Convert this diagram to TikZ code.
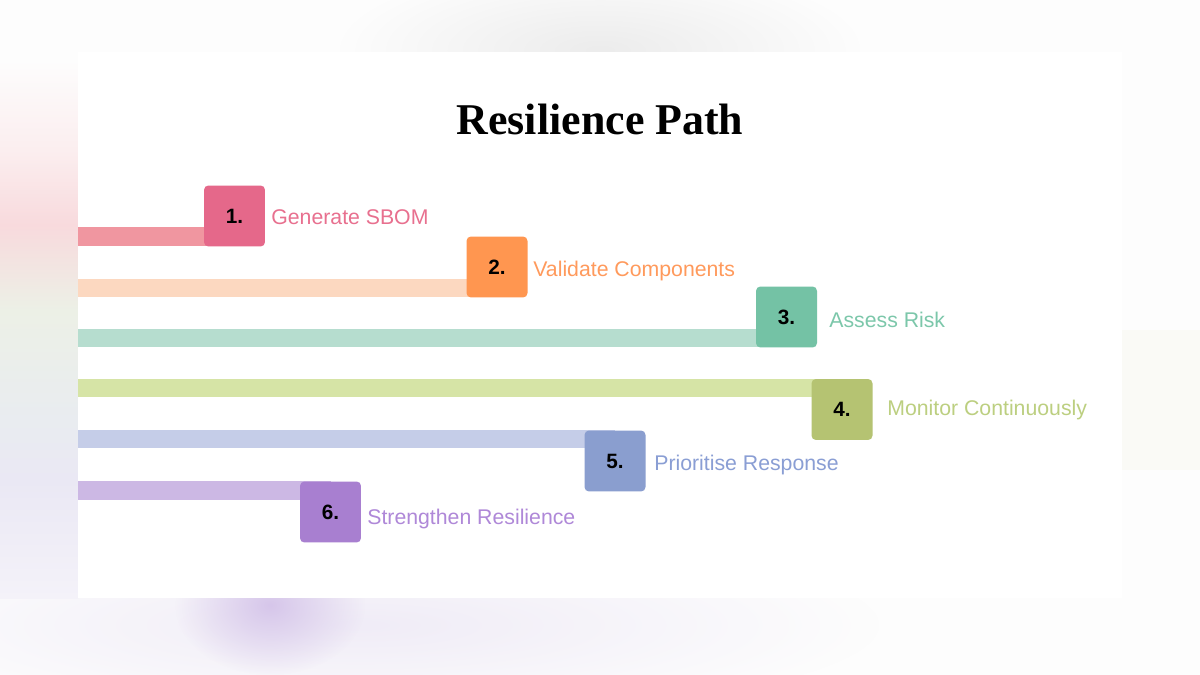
\documentclass[tikz,border=0pt]{standalone}
\usepackage{fontspec}
\setmainfont{Liberation Sans}
\newfontfamily\titlefont{Liberation Serif}
\usepackage{tikz}
\usetikzlibrary{positioning,calc,fadings}
\pgfdeclarelayer{haze}
\pgfdeclarelayer{bars}
\pgfsetlayers{haze,bars,main}
\definecolor{PageColor}{RGB}{253,253,253}
\definecolor{HazeGrey}{RGB}{236,236,236}
\definecolor{HazePink}{RGB}{248,218,221}
\definecolor{HazeRose}{RGB}{251,238,239}
\definecolor{HazeGreen}{RGB}{236,240,230}
\definecolor{HazeBlue}{RGB}{233,236,240}
\definecolor{HazeLilac}{RGB}{234,232,244}
\definecolor{HazeLilacLight}{RGB}{244,242,249}
\definecolor{HazeWash}{RGB}{240,236,247}
\definecolor{HazePurple}{RGB}{214,198,234}
\definecolor{HazeCream}{RGB}{250,250,246}
\definecolor{PinkBox}{RGB}{229,104,138}
\definecolor{PinkBar}{RGB}{240,150,160}
\definecolor{PinkText}{RGB}{232,112,143}
\definecolor{OrangeBox}{RGB}{255,150,80}
\definecolor{OrangeBar}{RGB}{252,216,192}
\definecolor{OrangeText}{RGB}{255,154,92}
\definecolor{GreenBox}{RGB}{116,194,165}
\definecolor{GreenBar}{RGB}{182,221,207}
\definecolor{GreenText}{RGB}{124,199,170}
\definecolor{OliveBox}{RGB}{181,195,114}
\definecolor{OliveBar}{RGB}{214,228,166}
\definecolor{OliveText}{RGB}{188,207,128}
\definecolor{BlueBox}{RGB}{138,158,207}
\definecolor{BlueBar}{RGB}{197,205,232}
\definecolor{BlueText}{RGB}{138,158,212}
\definecolor{PurpleBox}{RGB}{168,127,208}
\definecolor{PurpleBar}{RGB}{204,184,228}
\definecolor{PurpleText}{RGB}{175,136,216}
\tikzfading[name=blobfade, inner color=transparent!0, outer color=transparent!100]
\tikzset{
  pathbox/.style={rounded corners=2.5pt, minimum size=1.22cm, inner sep=0pt, text=black, font=\fontsize{11.8}{13}\selectfont\bfseries},
  pathlabel/.style={anchor=base west, inner sep=0pt, font=\fontsize{12.1}{14}\selectfont},
  pathbar/.style={line width=0.38cm},
  hazeband/.style={draw=none},
  hazeblob/.style={path fading=blobfade},
}

\begin{document}
\begin{tikzpicture}[x=0.02cm, y=-0.02cm]
      \useasboundingbox (0,0) rectangle (1200,675);
      \begin{pgfonlayer}{haze}
      \fill[PageColor] (0,0) rectangle (1200,675);
      \begin{scope}
        \clip (0,0) rectangle (1200,52);
        \fill[hazeblob, HazeGrey] (600,50) ellipse (260 and 85);
      \end{scope}
      \fill[hazeblob, HazeWash] (360,625) ellipse (520 and 95);
      \fill[hazeblob, HazePurple] (270,605) ellipse (95 and 70);
      \shade[hazeband, top color=PageColor, bottom color=HazeRose] (0,60) rectangle (78,150);
      \shade[hazeband, top color=HazeRose, bottom color=HazePink] (0,150) rectangle (78,225);
      \shade[hazeband, top color=HazePink, bottom color=HazeGreen] (0,225) rectangle (78,310);
      \shade[hazeband, top color=HazeGreen, bottom color=HazeBlue] (0,310) rectangle (78,420);
      \shade[hazeband, top color=HazeBlue, bottom color=HazeLilac] (0,420) rectangle (78,480);
      \shade[hazeband, top color=HazeLilac, bottom color=HazeLilacLight] (0,480) rectangle (78,598);
      \fill[HazeCream] (1122,330) rectangle (1200,470);
      \fill[white] (78,52) rectangle (1122,598);
      \end{pgfonlayer}

      \node[font=\titlefont\bfseries\fontsize{25}{30}\selectfont, anchor=base] (title) at (600,135) {Resilience Path};

      \coordinate (s1) at (78,236.5);
      \coordinate (s2) at (78,288);
      \coordinate (s3) at (78,338);
      \coordinate (s4) at (78,388);
      \coordinate (s5) at (78,439);
      \coordinate (s6) at (78,490.5);

      \node[pathbox, fill=PinkBox] (b1) at (234.5,216) {1.};
      \node[pathbox, fill=OrangeBox] (b2) at (497,267) {2.};
      \node[pathbox, fill=GreenBox] (b3) at (786.5,317) {3.};
      \node[pathbox, fill=OliveBox] (b4) at (842,409.5) {4.};
      \node[pathbox, fill=BlueBox] (b5) at (615,461) {5.};
      \node[pathbox, fill=PurpleBox] (b6) at (330.5,512) {6.};

      \begin{pgfonlayer}{bars}
      \draw[pathbar, PinkBar] (s1) -- (s1 -| b1.center);
      \draw[pathbar, OrangeBar] (s2) -- (s2 -| b2.center);
      \draw[pathbar, GreenBar] (s3) -- (s3 -| b3.center);
      \draw[pathbar, OliveBar] (s4) -- (s4 -| b4.center);
      \draw[pathbar, BlueBar] (s5) -- (s5 -| b5.center);
      \draw[pathbar, PurpleBar] (s6) -- (s6 -| b6.center);
      \end{pgfonlayer}

      \node[pathlabel, text=PinkText] (t1) at (271,224.5) {Generate SBOM};
      \node[pathlabel, text=OrangeText] (t2) at (533,276.5) {Validate Components};
      \node[pathlabel, text=GreenText] (t3) at (829,327.5) {Assess Risk};
      \node[pathlabel, text=OliveText] (t4) at (887,415.5) {Monitor Continuously};
      \node[pathlabel, text=BlueText] (t5) at (654,470.5) {Prioritise Response};
      \node[pathlabel, text=PurpleText] (t6) at (367,524.5) {Strengthen Resilience};
\end{tikzpicture}
\end{document}
